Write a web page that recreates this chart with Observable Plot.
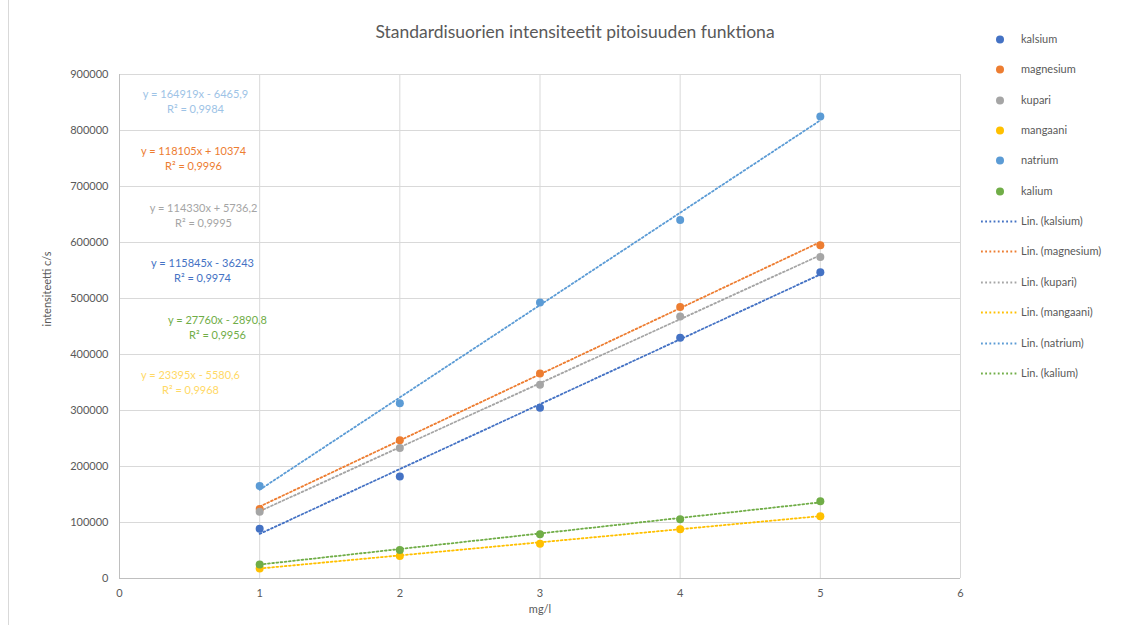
<!DOCTYPE html>
<html><head><meta charset="utf-8">
<script src="https://cdn.jsdelivr.net/npm/d3@7"></script>
<script src="https://cdn.jsdelivr.net/npm/@observablehq/plot@0.6"></script>
<style>
html,body{margin:0;padding:0;background:#fff;}
#wrap{position:relative;width:1129px;height:625px;font-family:Lato,"Open Sans",sans-serif;color:#595959;overflow:hidden;}
#title{position:absolute;left:0;width:1150px;top:21px;text-align:center;font-size:17.5px;color:#595959;}
#legend{position:absolute;left:0;top:0;}
.li{position:absolute;height:16px;font-size:11px;line-height:16px;white-space:nowrap;}
#frameL{position:absolute;left:8px;top:0;width:1px;height:625px;background:#d9d9d9;}
</style></head>
<body><div id="wrap"><div id="frameL"></div><div id="title"></div><div id="chart"></div><div id="legend"></div></div>
<script>
const title = "Standardisuorien intensiteetit pitoisuuden funktiona";
const xLabel = "mg/l";
const yLabel = "intensiteetti c/s";
const categories = ["kalsium", "magnesium", "kupari", "mangaani", "natrium", "kalium"];
const colors = ["#4472C4", "#ED7D31", "#A5A5A5", "#FFC000", "#5B9BD5", "#70AD47"];
const labelColors = ["#4472C4", "#ED7D31", "#A5A5A5", "#FFD966", "#9DC3E6", "#70AD47"];
const concentrations = [1, 2, 3, 4, 5];
const kalsium = [89000, 182000, 305000, 430000, 547000];
const magnesium = [124000, 247000, 366000, 485000, 595000];
const kupari = [119000, 233000, 346000, 468000, 574000];
const mangaani = [18000, 40000, 62000, 88000, 111000];
const natrium = [165000, 313000, 493000, 640000, 825000];
const kalium = [25000, 51000, 79000, 106000, 138000];
const slopes = [115845, 118105, 114330, 23395, 164919, 27760];
const intercepts = [-36243, 10374, 5736.2, -5580.6, -6465.9, -2890.8];
const equationTexts = ["y = 115845x - 36243", "y = 118105x + 10374", "y = 114330x + 5736,2", "y = 23395x - 5580,6", "y = 164919x - 6465,9", "y = 27760x - 2890,8"];
const r2Texts = ["R² = 0,9974", "R² = 0,9996", "R² = 0,9995", "R² = 0,9968", "R² = 0,9984", "R² = 0,9956"];
const xTicks = [0, 1, 2, 3, 4, 5, 6];
const yTicks = [0, 100000, 200000, 300000, 400000, 500000, 600000, 700000, 800000, 900000];

const seriesValues = [kalsium, magnesium, kupari, mangaani, natrium, kalium];
const points = [];
categories.forEach((c, i) => concentrations.forEach((x, j) => points.push({series: c, x, y: seriesValues[i][j]})));
const trend = [];
categories.forEach((c, i) => [concentrations[0], concentrations[concentrations.length - 1]].forEach(x => trend.push({series: c, x, y: slopes[i] * x + intercepts[i]})));

// label layout (pixel offset of the centre of each equation block within the frame)
const labelLayout = {natrium:[76,16], magnesium:[74,73], kupari:[84,130], kalsium:[83,185], kalium:[98,242], mangaani:[71,297]};
const labels = categories.map((c, i) => ({series: c, eq: equationTexts[i], r2: r2Texts[i], color: labelColors[i], dx: labelLayout[c][0], dy: labelLayout[c][1]}));
const colorScale = {domain: categories, range: colors};
const dash = "1.8,2.4";

const font = "Lato, 'Open Sans', sans-serif";
const chart = Plot.plot({
  width: 1129, height: 625,
  marginLeft: 119, marginRight: 169, marginTop: 74, marginBottom: 47,
  style: {fontFamily: font, fontSize: "11px", color: "#595959", background: "transparent"},
  x: {domain: [0, 6], ticks: xTicks, tickSize: 0, tickPadding: 11, label: null, tickFormat: d3.format("d")},
  y: {domain: [0, 900000], ticks: yTicks, tickSize: 0, tickPadding: 11, label: null, tickFormat: d3.format("d")},
  color: colorScale,
  marks: [
    Plot.gridX(xTicks.slice(1), {stroke: "#D9D9D9", strokeOpacity: 1, strokeWidth: 1}),
    Plot.gridY(yTicks.slice(1), {stroke: "#D9D9D9", strokeOpacity: 1, strokeWidth: 1}),
    Plot.ruleX([0], {stroke: "#BFBFBF"}),
    Plot.ruleY([0], {stroke: "#BFBFBF"}),
    Plot.lineY(trend, {x: "x", y: "y", z: "series", stroke: "series", strokeWidth: 1.8, strokeDasharray: dash}),
    Plot.dot(points, {x: "x", y: "y", fill: "series", r: 4}),
    ...labels.map(l => Plot.text([l], {text: "eq", frameAnchor: "top-left", textAnchor: "middle", dx: l.dx, dy: l.dy, fill: l.color, fontSize: 11})),
    ...labels.map(l => Plot.text([l], {text: "r2", frameAnchor: "top-left", textAnchor: "middle", dx: l.dx, dy: l.dy + 15, fill: l.color, fontSize: 11})),
    Plot.text([xLabel], {frameAnchor: "bottom", dy: 34, fill: "#595959", fontSize: 11}),
    Plot.text([yLabel], {frameAnchor: "left", dx: -72, rotate: -90, fill: "#595959", fontSize: 11})
  ]
});
document.getElementById("chart").appendChild(chart);
document.getElementById("title").textContent = title;

const legend = document.getElementById("legend");
const legendItems = [
  ...categories.map((c, i) => ({kind: "dot", text: c, color: colors[i]})),
  ...categories.map((c, i) => ({kind: "line", text: `Lin. (${c})`, color: colors[i]}))
];
legendItems.forEach((it, i) => {
  const top = 31 + i * 30.35;
  const d = document.createElement("div");
  d.className = "li";
  d.style.top = top + "px";
  if (it.kind === "dot") {
    d.style.left = "995px";
    d.innerHTML = `<svg width="10" height="16" style="vertical-align:top"><circle cx="5" cy="8.5" r="4" fill="${it.color}"/></svg><span style="margin-left:16px"></span>`;
  } else {
    d.style.left = "981px";
    d.innerHTML = `<svg width="36" height="16" style="vertical-align:top"><line x1="0" x2="36" y1="8.5" y2="8.5" stroke="${it.color}" stroke-width="1.8" stroke-dasharray="${dash}"/></svg><span style="margin-left:4px"></span>`;
  }
  d.querySelector("span").textContent = it.text;
  legend.appendChild(d);
});
</script></body></html>
